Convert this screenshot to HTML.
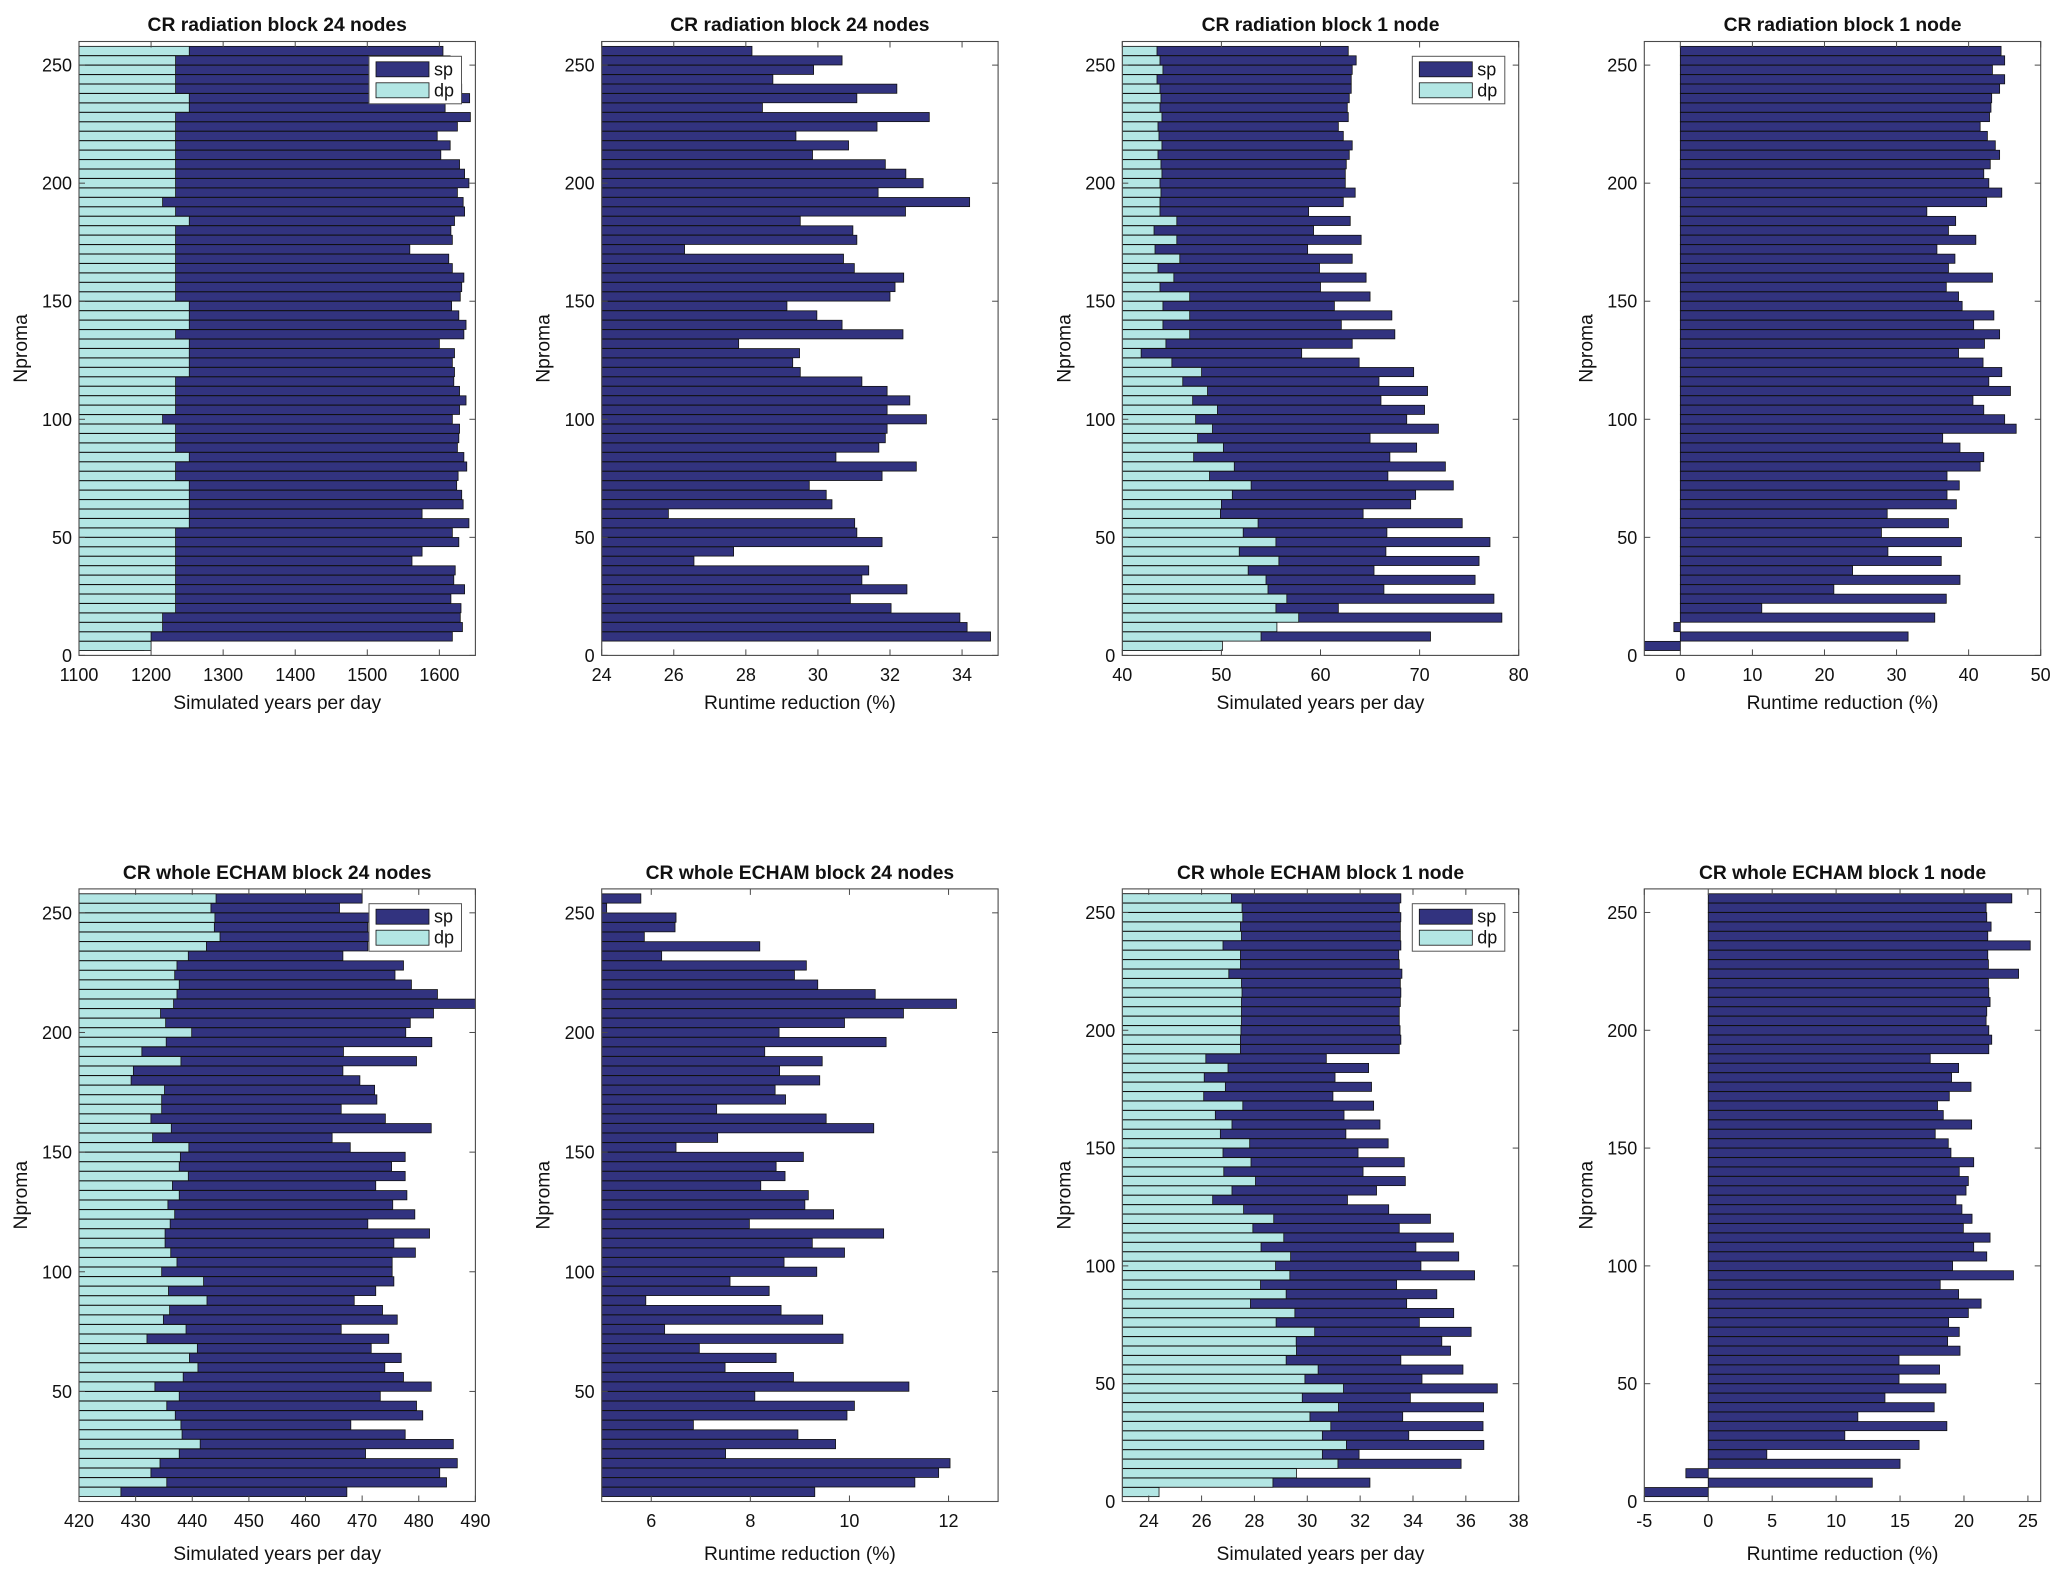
<!DOCTYPE html>
<html><head><meta charset="utf-8"><title>CR block benchmarks</title>
<style>
html,body{margin:0;padding:0;background:#fff;}
svg{display:block;font-family:"Liberation Sans",Arial,sans-serif;}
</style></head>
<body>
<svg id="fig" width="2067" height="1579" viewBox="0 0 2067 1579" xmlns="http://www.w3.org/2000/svg"></svg>
<script>
// ---- data (ordered from nproma 256 downward) ----
const npromaAll = [256,252,248,244,240,236,232,228,224,220,216,212,208,204,200,196,192,188,184,180,176,172,168,164,160,156,152,148,144,140,136,132,128,124,120,116,112,108,104,100,96,92,88,84,80,76,72,68,64,60,56,52,48,44,40,36,32,28,24,20,16,12,8,4];
const npromaFrom8 = [256,252,248,244,240,236,232,228,224,220,216,212,208,204,200,196,192,188,184,180,176,172,168,164,160,156,152,148,144,140,136,132,128,124,120,116,112,108,104,100,96,92,88,84,80,76,72,68,64,60,56,52,48,44,40,36,32,28,24,20,16,12,8];

const radSp24 = [1605,1615,1620,1625,1631,1642,1608,1643,1625,1597,1615,1602,1628,1635,1641,1625,1633,1635,1621,1616,1618,1559,1613,1618,1634,1631,1629,1617,1627,1637,1634,1600,1621,1618,1621,1620,1628,1637,1628,1618,1628,1627,1625,1634,1638,1626,1624,1631,1633,1576,1641,1618,1627,1576,1562,1622,1620,1635,1616,1630,1629,1632,1618,1190];
const radDp24 = [1253,1234,1234,1234,1234,1253,1253,1234,1234,1234,1234,1234,1234,1234,1234,1234,1216,1234,1253,1234,1234,1234,1234,1234,1234,1234,1234,1253,1253,1253,1234,1253,1253,1253,1253,1234,1234,1234,1234,1216,1234,1234,1234,1253,1234,1234,1253,1253,1253,1253,1253,1234,1234,1234,1234,1234,1234,1234,1234,1234,1216,1216,1200,1200];
const radRed24 = [28.17,30.67,29.88,28.75,32.19,31.08,28.46,33.09,31.64,29.39,30.85,29.85,31.87,32.44,32.92,31.67,34.21,32.43,29.51,30.97,31.08,26.30,30.71,31.01,32.38,32.14,32.0,29.14,29.97,30.67,32.36,27.80,29.49,29.30,29.51,31.22,31.92,32.55,31.92,33.01,31.92,31.87,31.69,30.5,32.73,31.78,29.76,30.23,30.39,25.85,31.02,31.08,31.78,27.66,26.56,31.41,31.22,32.47,30.9,32.03,33.94,34.14,34.79,22];
const radSp1 = [62.8,63.6,63.2,63.1,63.1,62.9,62.7,62.8,61.8,62.3,63.2,62.9,62.6,62.5,62.5,63.5,62.3,58.8,63.0,59.3,64.1,58.7,63.2,59.9,64.6,60.0,65.0,61.4,67.2,62.1,67.5,63.2,58.1,63.9,69.4,65.9,70.8,66.1,70.5,68.7,71.9,65.0,69.7,67.0,72.6,66.8,73.4,69.6,69.1,64.3,74.3,66.7,77.1,66.6,76.0,65.4,75.6,66.4,77.5,61.8,78.3,54,71.1,48];
const radDp1 = [43.5,43.8,44.1,43.5,43.8,43.9,43.8,44.0,43.6,43.7,44.0,43.6,43.9,44.0,43.8,43.9,43.8,43.8,45.5,43.2,45.5,43.3,45.8,43.6,45.2,43.8,46.8,44.1,46.8,44.1,46.8,44.4,41.9,45.0,48.0,46.1,48.6,47.1,49.6,47.4,49.1,47.6,50.2,47.2,51.3,48.8,53.0,51.1,50.0,49.9,53.7,52.2,55.5,51.8,55.8,52.7,54.5,54.7,56.6,55.5,57.8,55.6,54.0,50.1];
const radRed1 = [44.5,45.0,43.3,45.0,44.3,43.2,43.1,42.9,41.6,42.6,43.7,44.3,43.0,42.1,42.8,44.6,42.5,34.2,38.2,37.2,41.0,35.6,38.1,37.2,43.3,36.9,38.6,39.1,43.5,40.7,44.3,42.2,38.6,42.0,44.6,42.8,45.8,40.6,42.1,45.0,46.6,36.4,38.8,42.1,41.6,37.0,38.7,37.0,38.3,28.7,37.2,27.9,39.0,28.8,36.2,23.9,38.8,21.3,36.9,11.3,35.3,-0.9,31.6,-5.5];
const echSp24 = [470.0,466.0,472,471,473,471,466.6,477.3,475.8,478.7,483.3,491,482.6,478.5,477.7,482.3,466.7,479.6,466.6,469.6,472.2,472.6,466.3,474.1,482.2,464.7,467.9,477.6,475.2,477.6,472.4,477.9,475.4,479.3,471.0,481.9,475.6,479.4,475.3,475.3,475.6,472.4,468.6,473.6,476.2,466.3,474.7,471.6,476.9,474.0,477.3,482.2,473.2,479.6,480.7,468.0,477.6,486.1,470.6,486.8,483.7,484.9,467.3];
const echDp24 = [444.2,443.3,444.0,443.9,444.9,442.5,439.3,437.3,436.9,437.7,437.3,436.7,434.4,435.3,439.9,435.4,431.1,438.0,429.6,429.2,435.1,434.6,434.6,432.7,436.3,433.0,439.4,437.9,437.7,439.3,436.5,437.7,435.7,436.9,436.1,435.2,435.2,436.2,437.3,434.6,442.0,435.8,442.6,436.0,434.9,438.9,432.0,440.9,439.5,441.0,438.4,433.4,437.7,435.5,437.0,438.0,438.2,441.4,437.7,434.3,432.7,435.5,427.4];
const echRed24 = [5.79,5.10,6.50,6.48,5.86,8.19,6.21,9.13,8.89,9.36,10.52,12.16,11.09,9.90,8.58,10.74,8.29,9.45,8.59,9.40,8.50,8.71,7.32,9.53,10.49,7.34,6.50,9.07,8.52,8.70,8.21,9.17,9.10,9.68,7.98,10.69,9.25,9.90,8.68,9.34,7.59,8.38,5.89,8.62,9.46,6.27,9.87,6.97,8.52,7.49,8.87,11.20,8.09,10.10,9.95,6.85,8.96,9.72,7.50,12.03,11.80,11.32,9.30];
const echSp1 = [33.54,33.48,33.54,33.52,33.52,33.54,33.46,33.48,33.58,33.52,33.54,33.52,33.48,33.48,33.51,33.54,33.48,30.72,32.32,31.05,32.43,30.97,32.51,31.39,32.75,31.46,33.06,31.92,33.67,32.11,33.71,32.62,31.52,33.08,34.66,33.48,35.53,34.11,35.73,34.30,36.33,33.38,34.90,33.76,35.54,34.24,36.20,35.09,35.42,33.54,35.89,34.34,37.19,33.90,36.67,33.61,36.65,33.84,36.68,31.96,35.82,29.3,32.37,24];
const echDp1 = [27.13,27.53,27.56,27.47,27.51,26.81,27.47,27.47,27.03,27.51,27.53,27.51,27.51,27.51,27.49,27.47,27.47,26.16,27.0,26.10,26.90,26.08,27.56,26.52,27.15,26.71,27.82,26.81,27.87,26.84,28.04,27.15,26.42,27.59,28.73,27.94,29.11,28.25,29.37,28.80,29.34,28.23,29.20,27.85,29.53,28.82,30.28,29.58,29.59,29.20,30.41,29.91,31.37,29.81,31.18,30.10,30.89,30.57,31.48,30.57,31.16,29.59,28.70,24.39];
const echRed1 = [23.74,21.73,21.78,22.12,21.86,25.18,21.86,21.91,24.27,21.91,21.94,22.04,21.78,21.73,21.94,22.17,21.94,17.36,19.58,19.03,20.55,18.85,17.93,18.38,20.60,17.75,18.77,18.98,20.76,19.63,20.34,20.16,19.37,19.84,20.63,19.95,22.04,20.76,21.78,19.11,23.87,18.14,19.58,21.34,20.34,18.80,19.63,18.72,19.69,14.92,18.09,14.92,18.59,13.82,17.67,11.70,18.66,10.68,16.49,4.58,15.0,-1.75,12.83,-5.5];

// tick label arrays
const xt1 = [1100,1200,1300,1400,1500,1600];
const xt2 = [24,26,28,30,32,34];
const xt3 = [40,50,60,70,80];
const xt4 = [0,10,20,30,40,50];
const xt5 = [420,430,440,450,460,470,480,490];
const xt6 = [6,8,10,12];
const xt7 = [24,26,28,30,32,34,36,38];
const xt8 = [-5,0,5,10,15,20,25];
const ytTop = [0,50,100,150,200,250];
const ytB1 = [50,100,150,200,250];

const SP = "#32337f", DP = "#b3e6e4";
const NS = "http://www.w3.org/2000/svg";
const svg = document.getElementById('fig');
function mk(tag, attrs, parent){ const e=document.createElementNS(NS,tag); for(const k in attrs) e.setAttribute(k,attrs[k]); (parent||svg).appendChild(e); return e; }

const COLL = [79, 601.7, 1122.3, 1644.3], COLW = 396.4;
const ROWS = [{top:41.5,bot:655.4,title:31,xt:681,xl:709},{top:888.9,bot:1501.5,title:879,xt:1527,xl:1560}];

let clipId = 0;
function panel(o){
  const L=COLL[o.col], R=L+COLW, rw=ROWS[o.row], T=rw.top, B=rw.bot;
  const g = mk('g',{});
  
  
  const xs = v => L + (v-o.xlim[0])/(o.xlim[1]-o.xlim[0])*(R-L);
  const ys = v => B - (v-o.ylim[0])/(o.ylim[1]-o.ylim[0])*(B-T);
  const clamp = v => Math.max(o.xlim[0], Math.min(o.xlim[1], v));
  const cid = 'clip'+(clipId++);
  const cp = mk('clipPath',{id:cid},g); mk('rect',{x:L,y:T,width:R-L,height:B-T},cp);
  mk('rect',{x:L,y:T,width:R-L,height:B-T,fill:'#fff'},g);
  const bars = mk('g',{'clip-path':'url(#'+cid+')'},g);
  const h = Math.abs(ys(0)-ys(4))*0.97;
  o.series.forEach(s=>{
    s.values.forEach((v,i)=>{
      const n = o.cats[i];
      const x0 = xs(clamp(0)), x1 = xs(clamp(v));
      const r = mk('rect',{x:Math.min(x0,x1),y:ys(n)-h/2,width:Math.max(0.01,Math.abs(x1-x0)),height:h,fill:s.color,stroke:'#111','stroke-width':0.8},bars);
      
      
    });
  });
  const box = mk('rect',{x:L,y:T,width:R-L,height:B-T,fill:'none',stroke:'#4a4a4a','stroke-width':1.1},g);
  
  
  o.xticks.forEach(t=>{
    const x=xs(t);
    mk('line',{x1:x,y1:B,x2:x,y2:B-6,stroke:'#4a4a4a'},g);
    mk('line',{x1:x,y1:T,x2:x,y2:T+6,stroke:'#4a4a4a'},g);
    const tx = mk('text',{x:x,y:rw.xt,'font-size':18,'text-anchor':'middle',fill:'#111'},g);
    tx.textContent=t;
    
    
  });
  o.yticks.forEach(t=>{
    const y=ys(t);
    mk('line',{x1:L,y1:y,x2:L+6,y2:y,stroke:'#4a4a4a'},g);
    mk('line',{x1:R,y1:y,x2:R-6,y2:y,stroke:'#4a4a4a'},g);
    const tx = mk('text',{x:L-7,y:y+6.5,'font-size':18,'text-anchor':'end',fill:'#111'},g);
    tx.textContent=t;
    
    
  });
  const ti = mk('text',{x:(L+R)/2,y:rw.title,'font-size':19.3,'font-weight':'bold','text-anchor':'middle',fill:'#111'},g);
  ti.textContent=o.title;
  
  
  const xl = mk('text',{x:(L+R)/2,y:rw.xl,'font-size':19.3,'text-anchor':'middle',fill:'#111'},g);
  xl.textContent=o.xlabel;
  
  
  const cy=(T+B)/2, cx=L-52;
  const yl = mk('text',{x:cx,y:cy,'font-size':19.3,'text-anchor':'middle',fill:'#111',transform:'rotate(-90 '+cx+' '+cy+')'},g);
  yl.textContent='Nproma';
  
  
  if(o.legend){
    const lx=L+290, ly=T+14.8;
    const lg = mk('g',{},g);
    
    
    mk('rect',{x:lx,y:ly,width:92.5,height:47.5,fill:'#fff',stroke:'#555','stroke-width':1},lg);
    [['sp',SP,ly+13],['dp',DP,ly+34]].forEach(([k,c,yy])=>{
      const e = mk('g',{},lg);
      
      
      mk('rect',{x:lx+7,y:yy-7.5,width:53,height:15,fill:c,stroke:'#111','stroke-width':0.8},e);
      const t = mk('text',{x:lx+65,y:yy+6,'font-size':18,fill:'#111'},e);
      t.textContent=k;
    });
  }
}

const YT=[0,260], YB=[4,260];
panel({name:'panel-rad-24-years',col:0,row:0,title:'CR radiation block 24 nodes',xlabel:'Simulated years per day',xlim:[1100,1650],ylim:YT,xticks:xt1,yticks:ytTop,cats:npromaAll,legend:true,
  series:[{key:'sp',color:SP,values:radSp24},{key:'dp',color:DP,values:radDp24}]});
panel({name:'panel-rad-24-reduction',col:1,row:0,title:'CR radiation block 24 nodes',xlabel:'Runtime reduction (%)',xlim:[24,35],ylim:YT,xticks:xt2,yticks:ytTop,cats:npromaAll,
  series:[{key:'reduction',color:SP,values:radRed24}]});
panel({name:'panel-rad-1-years',col:2,row:0,title:'CR radiation block 1 node',xlabel:'Simulated years per day',xlim:[40,80],ylim:YT,xticks:xt3,yticks:ytTop,cats:npromaAll,legend:true,
  series:[{key:'sp',color:SP,values:radSp1},{key:'dp',color:DP,values:radDp1}]});
panel({name:'panel-rad-1-reduction',col:3,row:0,title:'CR radiation block 1 node',xlabel:'Runtime reduction (%)',xlim:[-5,50],ylim:YT,xticks:xt4,yticks:ytTop,cats:npromaAll,
  series:[{key:'reduction',color:SP,values:radRed1}]});
panel({name:'panel-echam-24-years',col:0,row:1,title:'CR whole ECHAM block 24 nodes',xlabel:'Simulated years per day',xlim:[420,490],ylim:YB,xticks:xt5,yticks:ytB1,cats:npromaFrom8,legend:true,
  series:[{key:'sp',color:SP,values:echSp24},{key:'dp',color:DP,values:echDp24}]});
panel({name:'panel-echam-24-reduction',col:1,row:1,title:'CR whole ECHAM block 24 nodes',xlabel:'Runtime reduction (%)',xlim:[5,13],ylim:YB,xticks:xt6,yticks:ytB1,cats:npromaFrom8,
  series:[{key:'reduction',color:SP,values:echRed24}]});
panel({name:'panel-echam-1-years',col:2,row:1,title:'CR whole ECHAM block 1 node',xlabel:'Simulated years per day',xlim:[23,38],ylim:YT,xticks:xt7,yticks:ytTop,cats:npromaAll,legend:true,
  series:[{key:'sp',color:SP,values:echSp1},{key:'dp',color:DP,values:echDp1}]});
panel({name:'panel-echam-1-reduction',col:3,row:1,title:'CR whole ECHAM block 1 node',xlabel:'Runtime reduction (%)',xlim:[-5,26],ylim:YT,xticks:xt8,yticks:ytTop,cats:npromaAll,
  series:[{key:'reduction',color:SP,values:echRed1}]});
</script>
</body></html>
